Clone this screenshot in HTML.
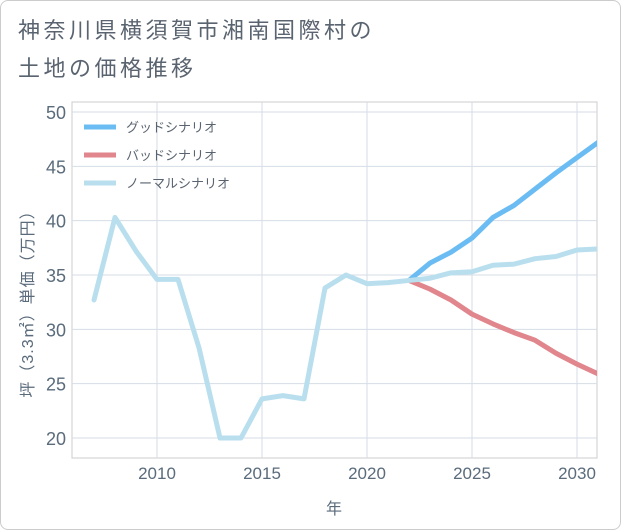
<!DOCTYPE html>
<html><head><meta charset="utf-8"><style>
body{margin:0;background:#fff;font-family:"Liberation Sans","Noto Sans CJK JP",sans-serif;}
#card{position:absolute;left:0;top:0;width:619px;height:528px;border:1px solid #ccc;border-radius:8px;background:#fff;}
text{font-family:"Liberation Sans","Noto Sans CJK JP",sans-serif;}
</style></head><body>
<div id="card"></div>
<svg id="chart" width="621" height="530" style="position:absolute;left:0;top:0">
<text x="18" y="38" font-size="22" letter-spacing="3.5" fill="#5a6470">神奈川県横須賀市湘南国際村の</text>
<text x="18" y="76" font-size="22" letter-spacing="3.5" fill="#5a6470">土地の価格推移</text>
<defs><clipPath id="clip"><rect x="72" y="102" width="525" height="356"/></clipPath></defs>
<g id="grid"></g><g id="series" clip-path="url(#clip)"></g><g id="legend"></g>
</svg>
<script>
const years=[2007,2008,2009,2010,2011,2012,2013,2014,2015,2016,2017,2018,2019,2020,2021,2022,2023,2024,2025,2026,2027,2028,2029,2030,2031];
const normalValues=[32.7,40.3,37.2,34.6,34.6,28.3,20,20,23.6,23.9,23.6,33.8,35.0,34.2,34.3,34.5,34.7,35.2,35.3,35.9,36.0,36.5,36.7,37.3,37.4];
const futureYears=[2022,2023,2024,2025,2026,2027,2028,2029,2030,2031];
const goodValues=[34.5,36.1,37.1,38.4,40.3,41.4,42.9,44.4,45.8,47.2];
const badValues=[34.5,33.7,32.7,31.4,30.5,29.7,29.0,27.8,26.8,25.9];
const yTicks=[20,25,30,35,40,45,50];
const xTicks=[2010,2015,2020,2025,2030];
const legendLabels=["グッドシナリオ","バッドシナリオ","ノーマルシナリオ"];
const NS="http://www.w3.org/2000/svg";
const L=72,R=597,T=102,B=458;
const xs=y=>157+(y-2010)*21;
const ys=v=>438-(v-20)*(326/30);
function mk(tag,attrs,parent){const e=document.createElementNS(NS,tag);for(const k in attrs)e.setAttribute(k,attrs[k]);parent.appendChild(e);return e;}
const grid=document.getElementById('grid');
const frame=mk('rect',{x:L,y:T,width:R-L,height:B-T,fill:'none',stroke:'#ccc'},grid);


yTicks.forEach(v=>{
 const l=mk('line',{x1:L,x2:R,y1:ys(v),y2:ys(v),stroke:'#d5dde6'},grid);
 
 
 const t=mk('text',{x:66,y:ys(v)+7,'font-size':18,fill:'#5a6b7b','text-anchor':'end'},grid);t.textContent=v;
 
 
});
xTicks.forEach(v=>{
 const l=mk('line',{x1:xs(v),x2:xs(v),y1:T,y2:B,stroke:'#d5dde6'},grid);
 
 
 const t=mk('text',{x:xs(v),y:479,'font-size':17,fill:'#5a6b7b','text-anchor':'middle'},grid);t.textContent=v;
 
 
});
const xt=mk('text',{x:334,y:514,'font-size':16,fill:'#5a6b7b','text-anchor':'middle'},grid);xt.textContent='年';


const yt=mk('text',{x:0,y:0,'font-size':16,fill:'#5a6b7b','text-anchor':'middle','letter-spacing':1,transform:'translate(33,300) rotate(-90)'},grid);yt.textContent='坪（3.3㎡）単価（万円）';


const S=document.getElementById('series');
function line(xv,yv,color,name){
 const d=xv.map((x,i)=>(i?'L':'M')+xs(x)+','+ys(yv[i])).join(' ');
 const p=mk('path',{d:d,fill:'none',stroke:color,'stroke-width':5,'stroke-linejoin':'round','stroke-linecap':'round'},S);
 
 
}
line(futureYears,goodValues,'#6bbcf3','good-scenario-line');
line(futureYears,badValues,'#e0868c','bad-scenario-line');
line(years,normalValues,'#b9dfee','normal-scenario-line');
const LG=document.getElementById('legend');
const lc=['#6bbcf3','#e0868c','#b9dfee'];
legendLabels.forEach((s,i)=>{
 const y=127+i*28;
 const l=mk('line',{x1:84,x2:116,y1:y,y2:y,stroke:lc[i],'stroke-width':5},LG);
 
 
 const t=mk('text',{x:126,y:y+5,'font-size':13,fill:'#5a6470'},LG);t.textContent=s;
 
 
});
</script>
</body></html>
